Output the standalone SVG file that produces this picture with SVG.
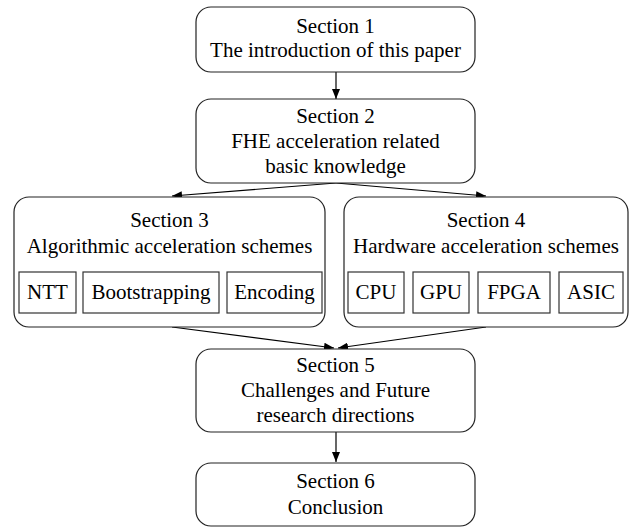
<svg xmlns="http://www.w3.org/2000/svg" width="632" height="528" viewBox="0 0 632 528">
<style>
text{font-family:'Liberation Serif','Times New Roman','DejaVu Serif',serif;font-size:21px;fill:#000;text-anchor:middle}
.box{fill:#fff;stroke:#222;stroke-width:1.2}
.sub{fill:#fff;stroke:#333;stroke-width:1.2}
.conn{stroke:#000;stroke-width:1.2;fill:none;marker-end:url(#ah)}
</style>
<defs>
<marker id="ah" markerUnits="userSpaceOnUse" markerWidth="10" markerHeight="8" refX="10" refY="4" orient="auto">
<path d="M0,0 L10,4 L0,8 z" fill="#000"/>
</marker>
</defs>
<rect width="632" height="528" fill="#fff"/>
<g id="connectors">
<line class="conn" x1="336" y1="72" x2="336" y2="99"/>
<line class="conn" x1="336" y1="183" x2="172" y2="196"/>
<line class="conn" x1="336" y1="183" x2="486" y2="196"/>
<line class="conn" x1="172" y1="327" x2="334" y2="348"/>
<line class="conn" x1="486" y1="327" x2="338" y2="348"/>
<line class="conn" x1="336" y1="432" x2="336" y2="462"/>
</g>
<g font-family="Liberation Serif, Times New Roman, DejaVu Serif, serif">
<g id="s1">
<rect class="box" x="196" y="7" width="279" height="65" rx="15"/>
<text x="335.5" y="33">Section 1</text>
<text x="335.5" y="57">The introduction of this paper</text>
</g>
<g id="s2">
<rect class="box" x="196" y="99" width="279" height="84" rx="15"/>
<text x="335.5" y="123">Section 2</text>
<text x="335.5" y="148">FHE acceleration related</text>
<text x="335.5" y="173">basic knowledge</text>
</g>
<g id="s3">
<rect class="box" x="14" y="197" width="311" height="130" rx="15"/>
<text x="169.5" y="227">Section 3</text>
<text x="169.5" y="253">Algorithmic acceleration schemes</text>
<g id="ntt"><rect class="sub" x="19" y="272" width="57" height="41"/><text x="47.5" y="299">NTT</text></g>
<g id="boot"><rect class="sub" x="83" y="272" width="136" height="41"/><text x="151" y="299">Bootstrapping</text></g>
<g id="enc"><rect class="sub" x="227" y="272" width="95" height="41"/><text x="274.5" y="299">Encoding</text></g>
</g>
<g id="s4">
<rect class="box" x="344" y="197" width="284" height="130" rx="15"/>
<text x="486" y="227">Section 4</text>
<text x="486" y="253">Hardware acceleration schemes</text>
<g id="cpu"><rect class="sub" x="348" y="272" width="56" height="41"/><text x="376" y="299">CPU</text></g>
<g id="gpu"><rect class="sub" x="413" y="272" width="56" height="41"/><text x="441" y="299">GPU</text></g>
<g id="fpga"><rect class="sub" x="478" y="272" width="72" height="41"/><text x="514" y="299">FPGA</text></g>
<g id="asic"><rect class="sub" x="559" y="272" width="64" height="41"/><text x="591" y="299">ASIC</text></g>
</g>
<g id="s5">
<rect class="box" x="196" y="349" width="279" height="83" rx="15"/>
<text x="335.5" y="372">Section 5</text>
<text x="335.5" y="397">Challenges and Future</text>
<text x="335.5" y="422">research directions</text>
</g>
<g id="s6">
<rect class="box" x="196" y="463" width="279" height="63" rx="15"/>
<text x="335.5" y="488">Section 6</text>
<text x="335.5" y="514">Conclusion</text>
</g>
</g>
</svg>
